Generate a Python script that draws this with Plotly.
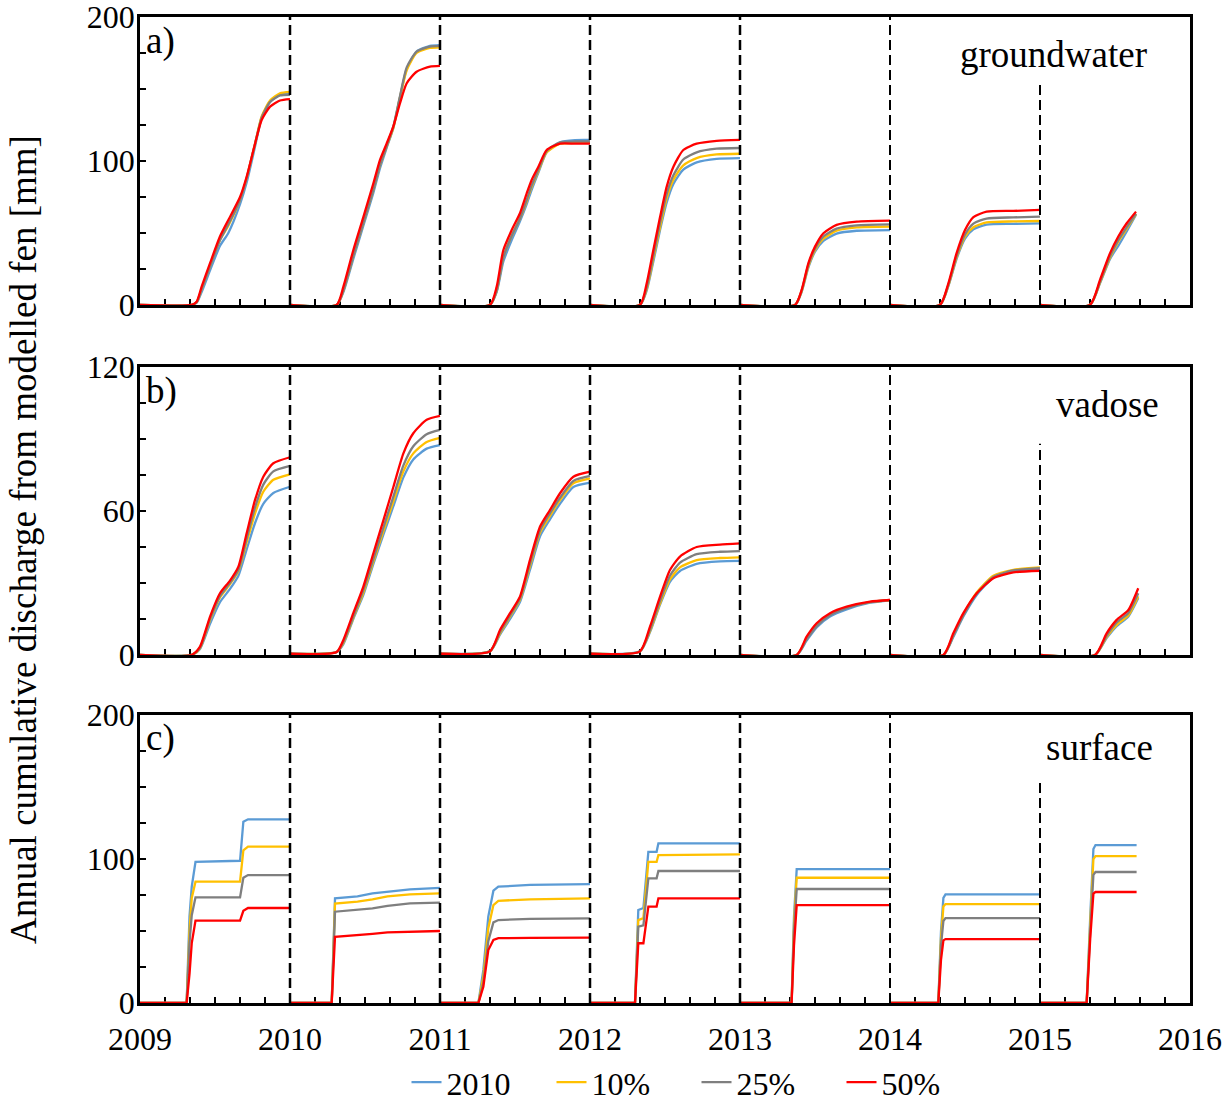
import plotly.graph_objects as go

# ---------------- data ----------------
YEARS = [2009, 2010, 2011, 2012, 2013, 2014, 2015]
SERIES = ["2010", "10%", "25%", "50%"]
COLORS = ["#5B9BD5", "#FFC000", "#7F7F7F", "#FF0000"]

# Panel a) groundwater : fractions of each year and values per series
A_T = [
    [0, 0.344, 0.378, 0.411, 0.467, 0.533, 0.589, 0.667, 0.711, 0.767, 0.811, 0.867, 0.933, 1.0],
    [0, 0.311, 0.356, 0.422, 0.489, 0.556, 0.6, 0.644, 0.689, 0.733, 0.778, 0.844, 0.933, 1.0],
    [0, 0.333, 0.378, 0.422, 0.478, 0.533, 0.578, 0.611, 0.656, 0.711, 0.8, 0.9, 1.0],
    [0, 0.333, 0.378, 0.422, 0.467, 0.511, 0.556, 0.622, 0.711, 0.844, 1.0],
    [0, 0.367, 0.411, 0.456, 0.5, 0.556, 0.644, 0.778, 1.0],
    [0, 0.333, 0.389, 0.444, 0.5, 0.556, 0.644, 0.822, 1.0],
    [0, 0.333, 0.4, 0.467, 0.522, 0.578, 0.64],
]
A_2010 = [
    [0, 0, 1.5, 9, 24, 41, 50, 70, 85, 110, 130, 141, 146, 147],
    [0, 0, 9, 32, 55, 78, 95, 109, 123, 144, 164, 176, 180, 180.5],
    [0, 0, 9, 30, 45, 58, 70, 80, 92, 106, 113, 114.5, 114.6],
    [0, 0, 10, 30, 52, 71, 84, 94, 99, 101.5, 102],
    [0, 0, 9, 26, 37, 44.5, 49.5, 51.5, 52],
    [0, 0, 13, 32, 46, 52.5, 55.8, 56.3, 56.7],
    [0, 0, 15, 32, 41, 51, 62.6],
]
A_10 = [
    [0, 0, 2, 11, 27, 45, 55, 73, 88, 112, 131, 142, 147, 148],
    [0, 0, 10, 34, 57, 80, 97, 110, 123, 144, 163, 175, 178.5, 179],
    [0, 0, 10, 33, 48, 60, 72, 82, 93, 106, 112, 112.5, 112.7],
    [0, 0, 11, 32, 54, 74, 87, 97, 102, 104.5, 105],
    [0, 0, 9.5, 27, 38, 46, 51.5, 53.8, 54.4],
    [0, 0, 13.5, 33, 47.5, 54, 57.3, 58, 58.3],
    [0, 0, 15.5, 33, 44, 53, 63],
]
A_25 = [
    [0, 0, 2, 11, 27, 45, 56, 73, 88, 112, 130, 141, 145.5, 146],
    [0, 0, 10, 34, 57, 80, 97, 110, 124, 145, 165, 176, 179.5, 180],
    [0, 0, 10, 33, 48, 60, 73, 83, 94, 107, 113, 113.5, 113.5],
    [0, 0, 12, 34, 57, 77, 90, 101, 106, 108.5, 109],
    [0, 0, 10, 28, 39, 47.5, 53, 55.3, 56],
    [0, 0, 14, 34, 49, 56.5, 60, 60.8, 61.3],
    [0, 0, 16, 34, 45, 54, 63.5],
]
A_50 = [
    [0, 0, 2.3, 12.7, 29, 47.5, 59, 75, 89, 112, 128.5, 137.7, 142, 143],
    [0, 0, 12.7, 38, 61, 84.5, 100.7, 112, 124, 140, 154, 162, 165.5, 166],
    [0, 0, 12.7, 38, 52, 63.7, 77.5, 86.8, 96, 107.6, 112, 112, 112],
    [0, 0, 15, 38, 61, 82, 96, 107.6, 112, 114, 114.6],
    [0, 0, 10.4, 29, 40.5, 49.8, 55.6, 57.9, 58.6],
    [0, 0, 15, 36, 52, 61, 64.8, 65.3, 66],
    [0, 0, 17.4, 36, 47.5, 56.7, 64.8],
]

# Panel b) vadose
B_T = [
    [0, 0.344, 0.4, 0.467, 0.533, 0.6, 0.656, 0.711, 0.767, 0.822, 0.889, 1.0],
    [0, 0.311, 0.356, 0.422, 0.489, 0.556, 0.622, 0.689, 0.756, 0.822, 0.911, 1.0],
    [0, 0.333, 0.4, 0.467, 0.533, 0.6, 0.667, 0.733, 0.8, 0.889, 1.0],
    [0, 0.333, 0.4, 0.467, 0.533, 0.6, 0.711, 0.867, 1.0],
    [0, 0.378, 0.444, 0.511, 0.6, 0.711, 0.867, 1.0],
    [0, 0.356, 0.422, 0.489, 0.578, 0.689, 0.822, 1.0],
    [0, 0.367, 0.444, 0.511, 0.589, 0.655],
]
B_2010 = [
    [0, 0, 2.5, 13, 22, 27.5, 33, 44, 55, 63, 67.5, 70.1],
    [0.5, 1.2, 4.5, 15, 25, 38, 50, 62, 74, 81.5, 86, 87.5],
    [0.5, 1.5, 8.5, 15, 22, 35.5, 49.5, 56.5, 63, 70, 71.8],
    [0.5, 1.5, 9.5, 21, 30.5, 35, 38, 39, 39.2],
    [0, 0, 6, 11.5, 16, 19, 21.8, 22.8],
    [0, 0, 7.5, 16, 25, 32.2, 35, 35.8],
    [0, 0, 7, 12, 16, 23.7],
]
B_10 = [
    [0, 0, 2.8, 14.5, 24, 29.5, 35, 47, 59, 68, 73, 75.3],
    [0.5, 1.2, 5, 15.5, 26, 39, 51.5, 64, 76.5, 84, 88.8, 90.5],
    [0.5, 1.5, 9, 16, 23, 37, 51, 58, 64.5, 71.5, 73.6],
    [0.5, 1.5, 10, 21.5, 31.5, 36.5, 39.5, 40.4, 40.7],
    [0, 0, 6.8, 12.3, 16.8, 19.8, 22, 22.8],
    [0, 0, 8.2, 16.8, 26, 33, 35.5, 36.5],
    [0, 0, 7.5, 12.5, 16.5, 24.5],
]
B_25 = [
    [0, 0, 3, 15, 24.5, 30, 35.5, 48.5, 61.5, 71, 76.5, 78.8],
    [0.5, 1.2, 5.5, 16, 27, 40, 53, 66, 79, 87, 92, 93.8],
    [0.5, 1.5, 9.5, 16.5, 23.5, 38, 52, 59, 65.5, 72.5, 74.6],
    [0.5, 1.5, 10.5, 22.5, 33, 38.5, 42, 43, 43.3],
    [0, 0, 6.5, 12, 16.5, 19.5, 22, 22.9],
    [0, 0, 8, 16.5, 25.5, 32.5, 35.2, 36.2],
    [0, 0, 8, 13.5, 17.5, 25.7],
]
B_50 = [
    [0, 0, 3.5, 16, 25.7, 31, 36.8, 50.7, 64.6, 74.3, 79.9, 82.4],
    [0.5, 1.2, 6.25, 17.4, 28.5, 42.4, 56, 70, 84, 92.4, 98, 99.6],
    [0.5, 1.5, 10.4, 17.4, 24.3, 39.6, 53.5, 60.4, 67.4, 74.3, 76.4],
    [0.5, 1.5, 11.8, 24.3, 35.4, 41, 45, 46, 46.5],
    [0, 0, 7.6, 13.2, 17.4, 20.1, 22.2, 22.9],
    [0, 0, 9, 17.4, 25.7, 32, 34.4, 35.1],
    [0, 0, 9, 14.6, 18.75, 27.8],
]

# Panel c) surface
C_T = [
    [0, 0.311, 0.33, 0.345, 0.37, 0.667, 0.689, 0.72, 1.0],
    [0, 0.278, 0.3, 0.45, 0.55, 0.65, 0.8, 1.0],
    [0, 0.256, 0.289, 0.322, 0.356, 0.389, 0.6, 1.0],
    [0, 0.3, 0.322, 0.356, 0.389, 0.444, 0.456, 1.0],
    [0, 0.344, 0.36, 0.378, 1.0],
    [0, 0.322, 0.34, 0.356, 0.37, 1.0],
    [0, 0.311, 0.335, 0.356, 0.37, 0.644],
]
C_2010 = [
    [0, 0, 60, 80.8, 98.1, 98.8, 126, 127.6, 127.6],
    [0, 0, 72.7, 74, 76.2, 77.5, 79, 80],
    [0, 0, 23, 60, 78, 80.8, 82, 82.6],
    [0, 0, 64.6, 66, 105, 105, 110.9, 110.9],
    [0, 0, 60, 93, 93],
    [0, 0, 50, 73, 75.5, 75.5],
    [0, 0, 60, 107, 109.7, 109.7],
]
C_10 = [
    [0, 0, 50, 73, 84.3, 84.3, 106, 108.6, 108.6],
    [0, 0, 69, 70.4, 72, 74, 75.5, 76.2],
    [0, 0, 18, 52, 68, 71, 72, 72.7],
    [0, 0, 57.6, 59, 98, 98, 102.8, 103.3],
    [0, 0, 55, 87, 87],
    [0, 0, 45, 67, 68.75, 68.75],
    [0, 0, 55, 100, 102, 102],
]
C_25 = [
    [0, 0, 42, 61, 73.4, 73.4, 87, 88.9, 88.9],
    [0, 0, 63.4, 64.5, 65.7, 67.5, 69.2, 69.7],
    [0, 0, 14, 43, 56, 57.6, 58.5, 58.8],
    [0, 0, 53, 54, 86.6, 86.6, 91.7, 91.7],
    [0, 0, 50, 79.2, 79.2],
    [0, 0, 40, 57, 59, 59],
    [0, 0, 50, 89, 91, 91],
]
C_50 = [
    [0, 0, 20, 41.6, 57.2, 57.2, 64, 66, 66],
    [0, 0, 46, 47, 48, 49, 49.5, 50],
    [0, 0, 11.3, 36.8, 43.75, 45, 45.2, 45.4],
    [0, 0, 41.5, 41.5, 67, 67, 72.7, 72.7],
    [0, 0, 40, 68, 68],
    [0, 0, 30, 43.5, 44.4, 44.4],
    [0, 0, 45, 76, 77.1, 77.1],
]

PANEL_LABELS = ["a)", "b)", "c)"]
PANEL_NAMES = ["groundwater", "vadose", "surface"]
Y_MAX = [200, 120, 200]
Y_DTICK = [100, 60, 100]
Y_MINOR = [25, 15, 25]
BOUNDARIES = [2010, 2011, 2012, 2013, 2014, 2015]
X_TICKS = [2009, 2010, 2011, 2012, 2013, 2014, 2015, 2016]
Y_TITLE = "Annual cumulative discharge from modelled fen [mm]"

panels = [
    (A_T, [A_2010, A_10, A_25, A_50]),
    (B_T, [B_2010, B_10, B_25, B_50]),
    (C_T, [C_2010, C_10, C_25, C_50]),
]

# ---------------- figure ----------------
FONT = "Liberation Serif, Times New Roman, serif"
fig = go.Figure()

domains = [[0.708, 1.0], [0.353, 0.645], [0.0, 0.292]]

for p, (tt, series_vals) in enumerate(panels):
    xa = "x" if p == 0 else f"x{p+1}"
    ya = "y" if p == 0 else f"y{p+1}"
    shape = "linear" if p == 2 else "spline"
    for s, name in enumerate(SERIES):
        xs, ys = [], []
        for yi, yr in enumerate(YEARS):
            xs += [yr + f for f in tt[yi]] + [None]
            ys += list(series_vals[s][yi]) + [None]
        line = dict(color=COLORS[s], width=2.3, shape=shape)
        if shape == "spline":
            line["smoothing"] = 0.6
        fig.add_trace(go.Scatter(
            x=xs, y=ys, mode="lines", name=name,
            line=line,
            legendgroup=name, showlegend=(p == 2),
            xaxis=xa, yaxis=ya, connectgaps=False,
        ))

axis_common = dict(showline=True, linecolor="black", linewidth=2.5, mirror=True,
                   showgrid=False, zeroline=False, ticks="inside", ticklen=6,
                   tickwidth=1.5, tickcolor="black", automargin=False,
                   ticklabeloverflow="allow", layer="below traces")

layout_axes = {}
for p in range(3):
    xk = "xaxis" if p == 0 else f"xaxis{p+1}"
    yk = "yaxis" if p == 0 else f"yaxis{p+1}"
    layout_axes[xk] = dict(axis_common, range=[2009, 2016], tickvals=X_TICKS,
                           showticklabels=(p == 2), ticklabelstandoff=6,
                           anchor="y" if p == 0 else f"y{p+1}",
                           minor=dict(dtick=1/6, tick0=2009, ticks="inside", ticklen=6,
                                      tickwidth=1.5, tickcolor="black"))
    if p > 0:
        layout_axes[xk]["matches"] = "x"
    layout_axes[yk] = dict(axis_common, range=[0, Y_MAX[p]], dtick=Y_DTICK[p], tick0=0,
                           domain=domains[p], ticklabelstandoff=-4,
                           anchor="x" if p == 0 else f"x{p+1}",
                           minor=dict(dtick=Y_MINOR[p], ticks="inside", ticklen=6,
                                      tickwidth=1.5, tickcolor="black"))

fig.update_layout(**layout_axes)
fig.update_xaxes(tickfont=dict(family=FONT, size=32, color="black"))
fig.update_yaxes(tickfont=dict(family=FONT, size=32, color="black"))

# dashed year separators
cut_2015 = [155, 88, 155]
shapes = []
for p in range(3):
    xr = "x" if p == 0 else f"x{p+1}"
    yr_ = "y" if p == 0 else f"y{p+1}"
    for b in BOUNDARIES:
        top = cut_2015[p] if b == 2015 else Y_MAX[p]
        w = 2.5 if b <= 2013 else 2.0
        shapes.append(dict(type="line", xref=xr, yref=yr_, x0=b, x1=b, y0=0, y1=top,
                           line=dict(color="black", width=w, dash="10px,5px")))

annotations = []
lab_y = [0.998, 0.997, 1.0]
name_pos = [(0.870, 0.948), (0.921, 0.948), (0.914, 0.965)]
for p in range(3):
    xd = "x domain" if p == 0 else f"x{p+1} domain"
    yd = "y domain" if p == 0 else f"y{p+1} domain"
    annotations.append(dict(text=PANEL_LABELS[p], xref=xd, yref=yd, x=0.004, y=lab_y[p],
                            xanchor="left", yanchor="top", showarrow=False,
                            font=dict(family=FONT, size=37, color="black")))
    annotations.append(dict(text=PANEL_NAMES[p], xref=xd, yref=yd, x=name_pos[p][0],
                            y=name_pos[p][1], xanchor="center", yanchor="top",
                            showarrow=False, font=dict(family=FONT, size=37, color="black")))
annotations.append(dict(text=Y_TITLE, xref="paper", yref="paper", x=-0.111, y=0.47,
                        xanchor="center", yanchor="middle", textangle=-90, showarrow=False,
                        font=dict(family=FONT, size=37, color="black")))

fig.update_layout(
    width=1231, height=1101,
    margin=dict(l=140, r=41, t=17, b=98, autoexpand=False),
    paper_bgcolor="white", plot_bgcolor="white",
    font=dict(family=FONT, size=32, color="black"),
    shapes=shapes, annotations=annotations,
    showlegend=True,
    legend=dict(orientation="h", x=0.53, xanchor="center",
                yref="container", y=0.017, yanchor="middle",
                font=dict(family=FONT, size=32, color="black"),
                entrywidth=100, entrywidthmode="pixels", bgcolor="rgba(0,0,0,0)"),
)

fig.write_html("out.html")
